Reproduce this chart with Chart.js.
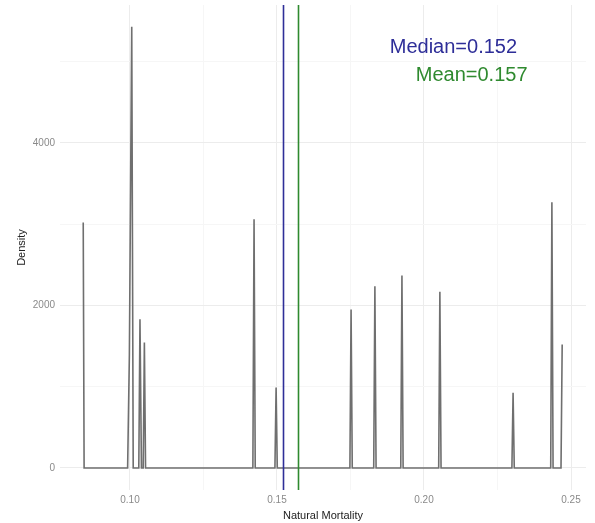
<!DOCTYPE html>
<html lang="en">
<head>
    <meta charset="UTF-8">
    <title>Natural Mortality density</title>
    <script src="https://cdn.jsdelivr.net/npm/chart.js@4.4.1/dist/chart.umd.min.js"></script>
    <style>
        html, body { margin: 0; padding: 0; background: #fff; }
        #wrap { width: 595px; height: 523px; position: relative; }
    </style>
</head>
<body>
    <div id="wrap"><canvas id="densityChart"></canvas></div>
    <script>
        // density curve (x = natural mortality, y = density)
        const mortality = [0.0841, 0.0844, 0.0992, 0.0998, 0.1006, 0.1011, 0.1030, 0.1034, 0.1039, 0.1045, 0.1049, 0.1053,
                           0.1418, 0.1422, 0.1426, 0.1493, 0.1497, 0.1501, 0.1748, 0.1752, 0.1756, 0.1829, 0.1833, 0.1837,
                           0.1921, 0.1925, 0.1929, 0.2050, 0.2054, 0.2058, 0.2299, 0.2303, 0.2307, 0.2431, 0.2435, 0.2439,
                           0.2466, 0.2470];
        const density   = [3020, 0, 0, 1400, 5430, 0, 0, 1830, 0, 0, 1545, 0,
                           0, 3060, 0, 0, 990, 0, 0, 1950, 0, 0, 2235, 0,
                           0, 2370, 0, 0, 2170, 0, 0, 925, 0, 0, 3270, 0,
                           0, 1520];

        const xTicks = [0.10, 0.125, 0.15, 0.175, 0.20, 0.225, 0.25];
        const xMajor = [0.10, 0.15, 0.20, 0.25];
        const yTicks = [0, 1000, 2000, 3000, 4000, 5000];
        const yMajor = [0, 2000, 4000];

        const medianValue = 0.152;
        const meanValue = 0.157;
        const medianLabel = 'Median=0.152';
        const meanLabel = 'Mean=0.157';

        const points = mortality.map((m, i) => ({ x: m, y: density[i] }));

        const isMajor = (list, v) => list.some(m => Math.abs(m - v) < 1e-9);

        const refLines = {
            id: 'refLines',
            afterDatasetsDraw(chart) {
                const { ctx, chartArea, scales } = chart;
                const lines = [
                    { v: medianValue, color: '#2e2e98' },
                    { v: meanValue, color: '#2f8a2f' }
                ];
                ctx.save();
                lines.forEach(l => {
                    const px = Math.round(scales.x.getPixelForValue(l.v)) + 0.5;
                    ctx.strokeStyle = l.color;
                    ctx.lineWidth = 1.6;
                    ctx.beginPath();
                    ctx.moveTo(px, chartArea.top);
                    ctx.lineTo(px, chartArea.bottom);
                    ctx.stroke();
                });
                ctx.font = '20px "Liberation Sans", Arial, sans-serif';
                ctx.textAlign = 'center';
                ctx.textBaseline = 'middle';
                ctx.fillStyle = '#2e2e98';
                ctx.fillText(medianLabel, scales.x.getPixelForValue(0.2100), scales.y.getPixelForValue(5180));
                ctx.fillStyle = '#2f8a2f';
                ctx.fillText(meanLabel, scales.x.getPixelForValue(0.2162), scales.y.getPixelForValue(4830));
                ctx.restore();
            }
        };

        new Chart(document.getElementById('densityChart'), {
            type: 'scatter',
            data: {
                datasets: [{
                    data: points,
                    showLine: true,
                    borderColor: '#6f6f6f',
                    borderWidth: 1.6,
                    pointRadius: 0,
                    tension: 0
                }]
            },
            options: {
                responsive: true,
                maintainAspectRatio: false,
                animation: false,
                layout: { padding: { top: 5, right: 9, left: 0, bottom: 0 } },
                plugins: { legend: { display: false }, tooltip: { enabled: false } },
                scales: {
                    x: {
                        type: 'linear',
                        min: 0.0762,
                        max: 0.2551,
                        afterBuildTicks: s => { s.ticks = xTicks.map(v => ({ value: v })); },
                        afterFit: s => { s.height = 33; s.paddingLeft = 0; s.paddingRight = 0; },
                        border: { display: false },
                        grid: {
                            drawTicks: false,
                            lineWidth: 1,
                            color: c => isMajor(xMajor, c.tick.value) ? '#ececec' : '#f6f6f6'
                        },
                        ticks: {
                            padding: 4,
                            color: '#8a8a8a',
                            font: { family: '"Liberation Sans", Arial, sans-serif', size: 10 },
                            maxRotation: 0,
                            autoSkip: false,
                            callback: v => isMajor(xMajor, v) ? v.toFixed(2) : ''
                        },
                        title: {
                            display: true,
                            text: 'Natural Mortality',
                            color: '#222',
                            padding: { top: 1, bottom: 0 },
                            font: { family: '"Liberation Sans", Arial, sans-serif', size: 11 }
                        }
                    },
                    y: {
                        type: 'linear',
                        min: -271,
                        max: 5698,
                        afterBuildTicks: s => { s.ticks = yTicks.map(v => ({ value: v })); },
                        afterFit: s => { s.width = 60; s.paddingTop = 0; s.paddingBottom = 0; },
                        border: { display: false },
                        grid: {
                            drawTicks: false,
                            lineWidth: 1,
                            color: c => isMajor(yMajor, c.tick.value) ? '#ececec' : '#f6f6f6'
                        },
                        ticks: {
                            padding: 5,
                            color: '#8a8a8a',
                            font: { family: '"Liberation Sans", Arial, sans-serif', size: 10 },
                            autoSkip: false,
                            callback: v => isMajor(yMajor, v) ? String(v) : ''
                        },
                        title: {
                            display: true,
                            text: 'Density',
                            color: '#222',
                            padding: { top: 15, bottom: 0 },
                            font: { family: '"Liberation Sans", Arial, sans-serif', size: 11 }
                        }
                    }
                }
            },
            plugins: [refLines]
        });
    </script>
</body>
</html>
